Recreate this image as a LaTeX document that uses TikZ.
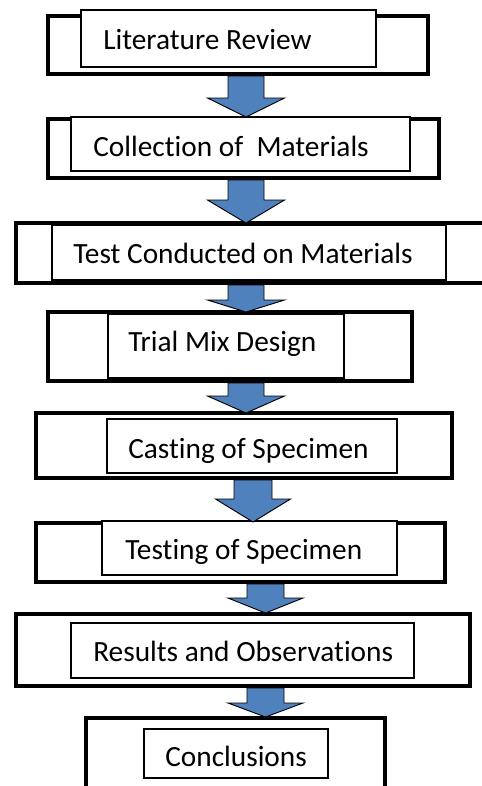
\documentclass[tikz,border=0pt]{standalone}
\usepackage{fontspec}
\setmainfont{Carlito}[Ligatures=NoCommon]
\usetikzlibrary{fit}
\definecolor{arrowblue}{HTML}{4F81BD}
\tikzset{
  frameline/.style={line width=3pt, line cap=square, black, shorten <=-1.5pt, shorten >=-1.5pt},
  ibox/.style={draw=black, line width=0.8pt, fill=white, inner sep=0pt},
  itext/.style={anchor=base west, inner sep=0pt, font=\fontsize{22}{26}\selectfont},
  flowarrowstyle/.style={fill=arrowblue, draw=black, line width=0.7pt, line join=miter},
}
% #1 cx, #2 top, #3 head start, #4 tip, #5 shaft half, #6 head half
\newcommand{\flowarrow}[6]{%
  \draw[flowarrowstyle] ({#1-#5},#2) -- ({#1+#5},#2) -- ({#1+#5},#3) -- ({#1+#6},#3)
    -- (#1,#4) -- ({#1-#6},#3) -- ({#1-#5},#3) -- cycle;}
\begin{document}
\begin{tikzpicture}[x=0.75pt, y=-0.75pt]
\useasboundingbox (0,0) rectangle (482,786);
\clip (0,0) rectangle (482,786);
% frames
\coordinate (f1a) at (48,16);  \coordinate (f1b) at (428,16);
\coordinate (f1c) at (48,74);  \coordinate (f1d) at (428,74);
\draw[frameline] (f1a) -- (f1b); \draw[frameline] (f1c) -- (f1d);
\draw[frameline] (f1a) -- (f1c); \draw[frameline] (f1b) -- (f1d);

\coordinate (f2a) at (48,119);  \coordinate (f2b) at (439,119);
\coordinate (f2c) at (48,178);  \coordinate (f2d) at (439,178);
\draw[frameline] (f2a) -- (f2b); \draw[frameline] (f2c) -- (f2d);
\draw[frameline] (f2a) -- (f2c); \draw[frameline] (f2b) -- (f2d);

\coordinate (f3a) at (16,223);  \coordinate (f3b) at (490,223);
\coordinate (f3c) at (16,283);  \coordinate (f3d) at (490,283);
\draw[frameline] (f3a) -- (f3b); \draw[frameline] (f3c) -- (f3d);
\draw[frameline] (f3a) -- (f3c);

\coordinate (f4a) at (48,312);  \coordinate (f4b) at (412,312);
\coordinate (f4c) at (48,381);  \coordinate (f4d) at (412,381);
\draw[frameline] (f4a) -- (f4b); \draw[frameline] (f4c) -- (f4d);
\draw[frameline] (f4a) -- (f4c); \draw[frameline] (f4b) -- (f4d);

\coordinate (f5a) at (36,413);  \coordinate (f5b) at (452,413);
\coordinate (f5c) at (36,478);  \coordinate (f5d) at (452,478);
\draw[frameline] (f5a) -- (f5b); \draw[frameline] (f5c) -- (f5d);
\draw[frameline] (f5a) -- (f5c); \draw[frameline] (f5b) -- (f5d);

\coordinate (f6a) at (36,523);  \coordinate (f6b) at (445,523);
\coordinate (f6c) at (36,582);  \coordinate (f6d) at (445,582);
\draw[frameline] (f6a) -- (f6b); \draw[frameline] (f6c) -- (f6d);
\draw[frameline] (f6a) -- (f6c); \draw[frameline] (f6b) -- (f6d);

\coordinate (f7a) at (16,614);  \coordinate (f7b) at (470,614);
\coordinate (f7c) at (16,686);  \coordinate (f7d) at (470,686);
\draw[frameline] (f7a) -- (f7b); \draw[frameline] (f7c) -- (f7d);
\draw[frameline] (f7a) -- (f7c); \draw[frameline] (f7b) -- (f7d);

\coordinate (f8a) at (86,718);  \coordinate (f8b) at (385,718);
\coordinate (f8c) at (86,800);  \coordinate (f8d) at (385,800);
\draw[frameline] (f8a) -- (f8b);
\draw[frameline] (f8a) -- (f8c); \draw[frameline] (f8b) -- (f8d);

% inner boxes
\node[ibox, fit={(81,10)(376,67)}] (b1) {};
\node[ibox, fit={(71,117)(410,171)}] (b2) {};
\node[ibox, fit={(52,225)(446,280)}] (b3) {};
\node[ibox, fit={(108,314.5)(344,378)}] (b4) {};
\node[ibox, fit={(107,419)(397,473)}] (b5) {};
\node[ibox, fit={(102,521)(397,575)}] (b6) {};
\node[ibox, fit={(71,623)(414,678)}] (b7) {};
\node[ibox, fit={(144,729)(328,778)}] (b8) {};

% texts
\node[itext] (t1) at (103,49.3) {Literature Review};
\node[itext] (t2) at (93,156) {Collection of\ \ Materials};
\node[itext] (t3) at (73,263.3) {Test Conducted on Materials};
\node[itext] (t4) at (128,351.7) {Trial Mix Design};
\node[itext] (t5) at (128,458.3) {Casting of Specimen};
\node[itext] (t6) at (125,559.3) {Testing of Specimen};
\node[itext] (t7) at (93,661.7) {Results and Observations};
\node[itext] (t8) at (165,766.7) {Conclusions};

% block arrows
\flowarrow{246}{76}{98}{117}{18}{38.5}
\flowarrow{246}{180}{200}{223}{18}{38.5}
\flowarrow{246}{285}{300}{312}{18}{38.5}
\flowarrow{246}{383}{396}{413}{18}{38.5}
\flowarrow{253}{480}{499}{522}{19}{37.5}
\flowarrow{265.5}{584}{598}{613}{18.5}{37.5}
\flowarrow{265.5}{688}{703}{717}{18.5}{37.5}
\end{tikzpicture}
\end{document}
